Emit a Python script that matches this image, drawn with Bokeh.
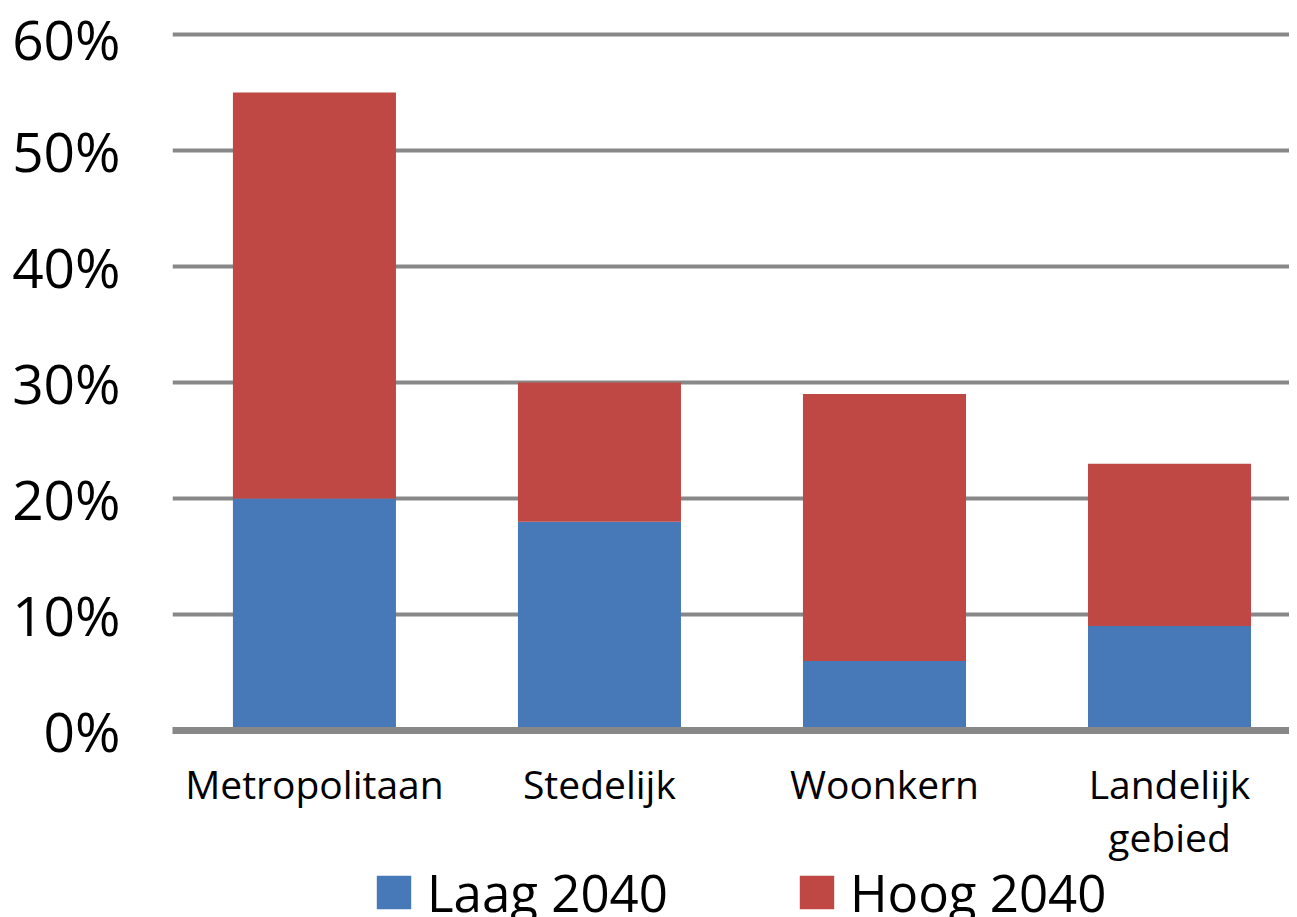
from bokeh.plotting import figure
from bokeh.layouts import column
from bokeh.models import ColumnDataSource, FixedTicker, Legend, LegendItem
from bokeh.embed import file_html
from bokeh.resources import INLINE

categories = ["Metropolitaan", "Stedelijk", "Woonkern", "Landelijk\ngebied"]
laag_2040 = [20, 18, 6, 9]
hoog_2040 = [55, 30, 29, 23]
series_names = ["Laag 2040", "Hoog 2040"]
y_ticks = [0, 10, 20, 30, 40, 50, 60]
y_tick_labels = ["0%", "10%", "20%", "30%", "40%", "50%", "60%"]

x_pos = list(range(len(categories)))
src = ColumnDataSource(dict(x=x_pos, laag=laag_2040, hoog=hoog_2040))

FONT = "Open Sans"
BLUE = "#4779B8"
RED = "#BF4744"
GRID = "#888888"

p = figure(width=1289, height=869, x_range=(-0.498, 3.421), y_range=(0, 60.34),
           output_backend="svg", toolbar_location=None,
           min_border_left=172, min_border_right=0, min_border_top=30,
           min_border_bottom=139)
p.outline_line_color = None
p.background_fill_color = "white"
p.border_fill_color = "white"

p.vbar(x="x", top="laag", bottom=0, width=0.572, source=src,
       fill_color=BLUE, line_color=None)
p.vbar(x="x", top="hoog", bottom="laag", width=0.572, source=src,
       fill_color=RED, line_color=None)

# y axis
p.yaxis.ticker = FixedTicker(ticks=y_ticks)
p.yaxis.major_label_overrides = {t: l for t, l in zip(y_ticks, y_tick_labels)}
p.yaxis.axis_line_color = None
p.yaxis.major_tick_line_color = None
p.yaxis.minor_tick_line_color = None
p.yaxis.major_label_text_font = FONT
p.yaxis.major_label_text_font_size = "55px"
p.yaxis.major_label_text_color = "black"
p.yaxis.major_label_standoff = 46

# x axis
p.xaxis.ticker = FixedTicker(ticks=x_pos)
p.xaxis.major_label_overrides = {i: c for i, c in zip(x_pos, categories)}
p.xaxis.axis_line_color = GRID
p.xaxis.axis_line_width = 7
p.xaxis.major_tick_line_color = None
p.xaxis.minor_tick_line_color = None
p.xaxis.major_label_text_font = FONT
p.xaxis.major_label_text_font_size = "39px"
p.xaxis.major_label_text_line_height = 1.0
p.xaxis.major_label_text_color = "black"
p.xaxis.major_label_standoff = 20

# grid
p.xgrid.grid_line_color = None
p.ygrid.ticker = FixedTicker(ticks=y_ticks)
p.ygrid.grid_line_color = GRID
p.ygrid.grid_line_width = 4

# legend strip below the chart
lg = figure(width=1289, height=48, x_range=(100, 101), y_range=(100, 101),
            output_backend="svg", toolbar_location=None,
            min_border=0, min_border_left=0, min_border_right=0,
            min_border_top=0, min_border_bottom=0)
lg.axis.visible = False
lg.grid.visible = False
lg.outline_line_color = None
k_laag = lg.vbar(x="x", top="laag", width=0.572, source=src,
                 fill_color=BLUE, line_color=None, visible=False)
k_hoog = lg.vbar(x="x", top="hoog", bottom="laag", width=0.572, source=src,
                 fill_color=RED, line_color=None, visible=False)
legend = Legend(items=[LegendItem(label=series_names[0], renderers=[k_laag]),
                       LegendItem(label=series_names[1], renderers=[k_hoog])],
                orientation="horizontal", location=(200, -10),
                label_text_font=FONT, label_text_font_size="51px",
                label_text_color="black",
                glyph_width=43, glyph_height=42, label_standoff=12,
                spacing=127, padding=0, margin=0,
                inactive_fill_alpha=0,
                border_line_color=None, background_fill_alpha=0)
lg.add_layout(legend, "center")

layout = column(p, lg, spacing=0)
open("out.html", "w").write(file_html(layout, INLINE))
